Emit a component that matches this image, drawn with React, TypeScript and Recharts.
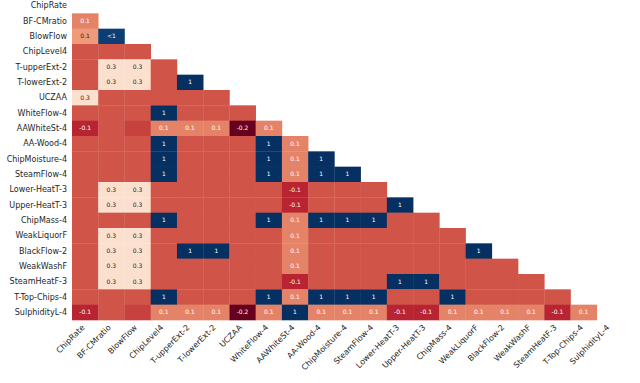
import { ScatterChart, Scatter, XAxis, YAxis } from "recharts";

// variable names, in matrix order (rows and columns share them)
const variables = [
  "ChipRate", "BF-CMratio", "BlowFlow", "ChipLevel4", "T-upperExt-2", "T-lowerExt-2",
  "UCZAA", "WhiteFlow-4", "AAWhiteSt-4", "AA-Wood-4", "ChipMoisture-4", "SteamFlow-4",
  "Lower-HeatT-3", "Upper-HeatT-3", "ChipMass-4", "WeakLiquorF", "BlackFlow-2",
  "WeakWashF", "SteamHeatF-3", "T-Top-Chips-4", "SulphidityL-4",
];

// nullity correlation, lower triangle (row i holds columns 0..i-1)
const rowBFCMratio = [0.1];
const rowBlowFlow = [0.14, 0.97];
const rowChipLevel4 = [0.02, 0.02, 0.02];
const rowTupperExt2 = [0.02, 0.3, 0.3, 0.02];
const rowTlowerExt2 = [0.02, 0.3, 0.3, 0.02, 1];
const rowUCZAA = [0.3, 0.02, 0.02, 0.02, 0.02, 0.02];
const rowWhiteFlow4 = [0.02, 0.02, 0.02, 1, 0.02, 0.02, 0.02];
const rowAAWhiteSt4 = [-0.06, 0.02, -0.01, 0.1, 0.1, 0.1, -0.2, 0.1];
const rowAAWood4 = [0.02, 0.02, 0.02, 1, 0.02, 0.02, 0.02, 1, 0.1];
const rowChipMoisture4 = [0.02, 0.02, 0.02, 1, 0.02, 0.02, 0.02, 1, 0.1, 1];
const rowSteamFlow4 = [0.02, 0.02, 0.02, 1, 0.02, 0.02, 0.02, 1, 0.1, 1, 1];
const rowLowerHeatT3 = [0.02, 0.3, 0.3, 0.02, 0.02, 0.02, 0.02, 0.02, -0.06, 0.02, 0.02, 0.02];
const rowUpperHeatT3 = [0.02, 0.3, 0.3, 0.02, 0.02, 0.02, 0.02, 0.02, -0.06, 0.02, 0.02, 0.02, 1];
const rowChipMass4 = [0.02, 0.02, 0.02, 1, 0.02, 0.02, 0.02, 1, 0.1, 1, 1, 1, 0.02, 0.02];
const rowWeakLiquorF = [0.02, 0.3, 0.3, 0.02, 0.02, 0.02, 0.02, 0.02, 0.1, 0.02, 0.02, 0.02, 0.02, 0.02, 0.02];
const rowBlackFlow2 = [0.02, 0.3, 0.3, 0.02, 1, 1, 0.02, 0.02, 0.1, 0.02, 0.02, 0.02, 0.02, 0.02, 0.02, 1];
const rowWeakWashF = [0.02, 0.3, 0.3, 0.02, 0.02, 0.02, 0.02, 0.02, 0.1, 0.02, 0.02, 0.02, 0.02, 0.02, 0.02, 0.02, 0.02];
const rowSteamHeatF3 = [0.02, 0.3, 0.3, 0.02, 0.02, 0.02, 0.02, 0.02, -0.06, 0.02, 0.02, 0.02, 1, 1, 0.02, 0.02, 0.02, 0.02];
const rowTTopChips4 = [0.02, 0.02, 0.02, 1, 0.02, 0.02, 0.02, 1, 0.1, 1, 1, 1, 0.02, 0.02, 1, 0.02, 0.02, 0.02, 0.02];
const rowSulphidityL4 = [-0.06, 0.02, -0.01, 0.1, 0.1, 0.1, -0.2, 0.1, 1, 0.1, 0.1, 0.1, -0.06, -0.06, 0.1, 0.1, 0.1, 0.1, -0.06, 0.1];

const rows = [
  [], rowBFCMratio, rowBlowFlow, rowChipLevel4, rowTupperExt2, rowTlowerExt2, rowUCZAA,
  rowWhiteFlow4, rowAAWhiteSt4, rowAAWood4, rowChipMoisture4, rowSteamFlow4, rowLowerHeatT3,
  rowUpperHeatT3, rowChipMass4, rowWeakLiquorF, rowBlackFlow2, rowWeakWashF, rowSteamHeatF3,
  rowTTopChips4, rowSulphidityL4,
];

const W = 640;
const H = 383;
const margin = { top: -2, right: 17, bottom: 0, left: 0 };
const yAxisWidth = 72;
const xAxisHeight = 63;
const n = variables.length;
const cellW = (W - margin.left - margin.right - yAxisWidth) / n;
const cellH = (H - margin.top - margin.bottom - xAxisHeight) / n;
const font = "DejaVu Sans";
const textColor = "#262626";
const labelSize = 8;

// matplotlib RdBu
const rdbu = [
  "#67001f", "#b2182b", "#d6604d", "#f4a582", "#fddbc7", "#f7f7f7",
  "#d1e5f0", "#92c5de", "#4393c3", "#2166ac", "#053061",
];
const vmin = -0.2;
const vmax = 1;

const hexRgb = (h: string) => [1, 3, 5].map((i) => parseInt(h.slice(i, i + 2), 16));

const colorOf = (v: number) => {
  const t = Math.max(0, Math.min(1, (v - vmin) / (vmax - vmin))) * (rdbu.length - 1);
  const i = Math.min(Math.floor(t), rdbu.length - 2);
  const f = t - i;
  const a = hexRgb(rdbu[i]);
  const b = hexRgb(rdbu[i + 1]);
  return a.map((c, k) => Math.round(c + (b[k] - c) * f));
};

const luminance = (rgb: number[]) => {
  const lin = rgb.map((c) => {
    const s = c / 255;
    return s <= 0.03928 ? s / 12.92 : Math.pow((s + 0.055) / 1.055, 2.4);
  });
  return 0.2126 * lin[0] + 0.7152 * lin[1] + 0.0722 * lin[2];
};

const labelOf = (v: number) => {
  if (v === 1) return "1";
  if (v >= 0.95 && v < 1) return "<1";
  if (Math.abs(v) < 0.05) return "";
  return String(Math.round(v * 10) / 10);
};

const cells = rows.flatMap((vals, r) =>
  vals.map((v, c) => ({ x: c + 0.5, y: r + 0.5, v }))
);

const ticks = variables.map((_, i) => i + 0.5);

const HeatCell = (props: any) => {
  const { cx, cy, payload } = props;
  const rgb = colorOf(payload.v);
  const label = labelOf(payload.v);
  return (
    <g>
      <rect x={cx - cellW / 2} y={cy - cellH / 2} width={cellW + 0.3} height={cellH + 0.3} fill={`rgb(${rgb.join(",")})`} />
      {label && (
        <text x={cx} y={cy} dy="0.35em" textAnchor="middle" fontSize={6} fontFamily={font}
          fill={luminance(rgb) > 0.408 ? textColor : "#ffffff"}>
          {label}
        </text>
      )}
    </g>
  );
};

const XTick = (props: any) => {
  const { x, y, payload } = props;
  return (
    <text transform={`translate(${x},${y + 8}) rotate(-45)`} textAnchor="end"
      fontSize={labelSize} fontFamily={font} fill={textColor}>
      {variables[Math.round(payload.value - 0.5)]}
    </text>
  );
};

const YTick = (props: any) => {
  const { x, y, payload } = props;
  return (
    <text x={x} y={y} dy="0.35em" textAnchor="end" fontSize={labelSize} fontFamily={font} fill={textColor}>
      {variables[Math.round(payload.value - 0.5)]}
    </text>
  );
};

const App = () => {
  return (
    <div style={{ position: "absolute", left: 0, top: 0, background: "#fff" }}>
      <ScatterChart width={W} height={H} margin={margin}>
        <XAxis type="number" dataKey="x" domain={[0, n]} ticks={ticks} interval={0}
          height={xAxisHeight} axisLine={false} tickLine={false} tickSize={0} tickMargin={0} tick={<XTick />} />
        <YAxis type="number" dataKey="y" domain={[0, n]} ticks={ticks} interval={0} reversed
          width={yAxisWidth} axisLine={false} tickLine={false} tickSize={0} tickMargin={5} tick={<YTick />} />
        <Scatter data={cells} shape={<HeatCell />} isAnimationActive={false} />
      </ScatterChart>
    </div>
  );
};

export default App;
